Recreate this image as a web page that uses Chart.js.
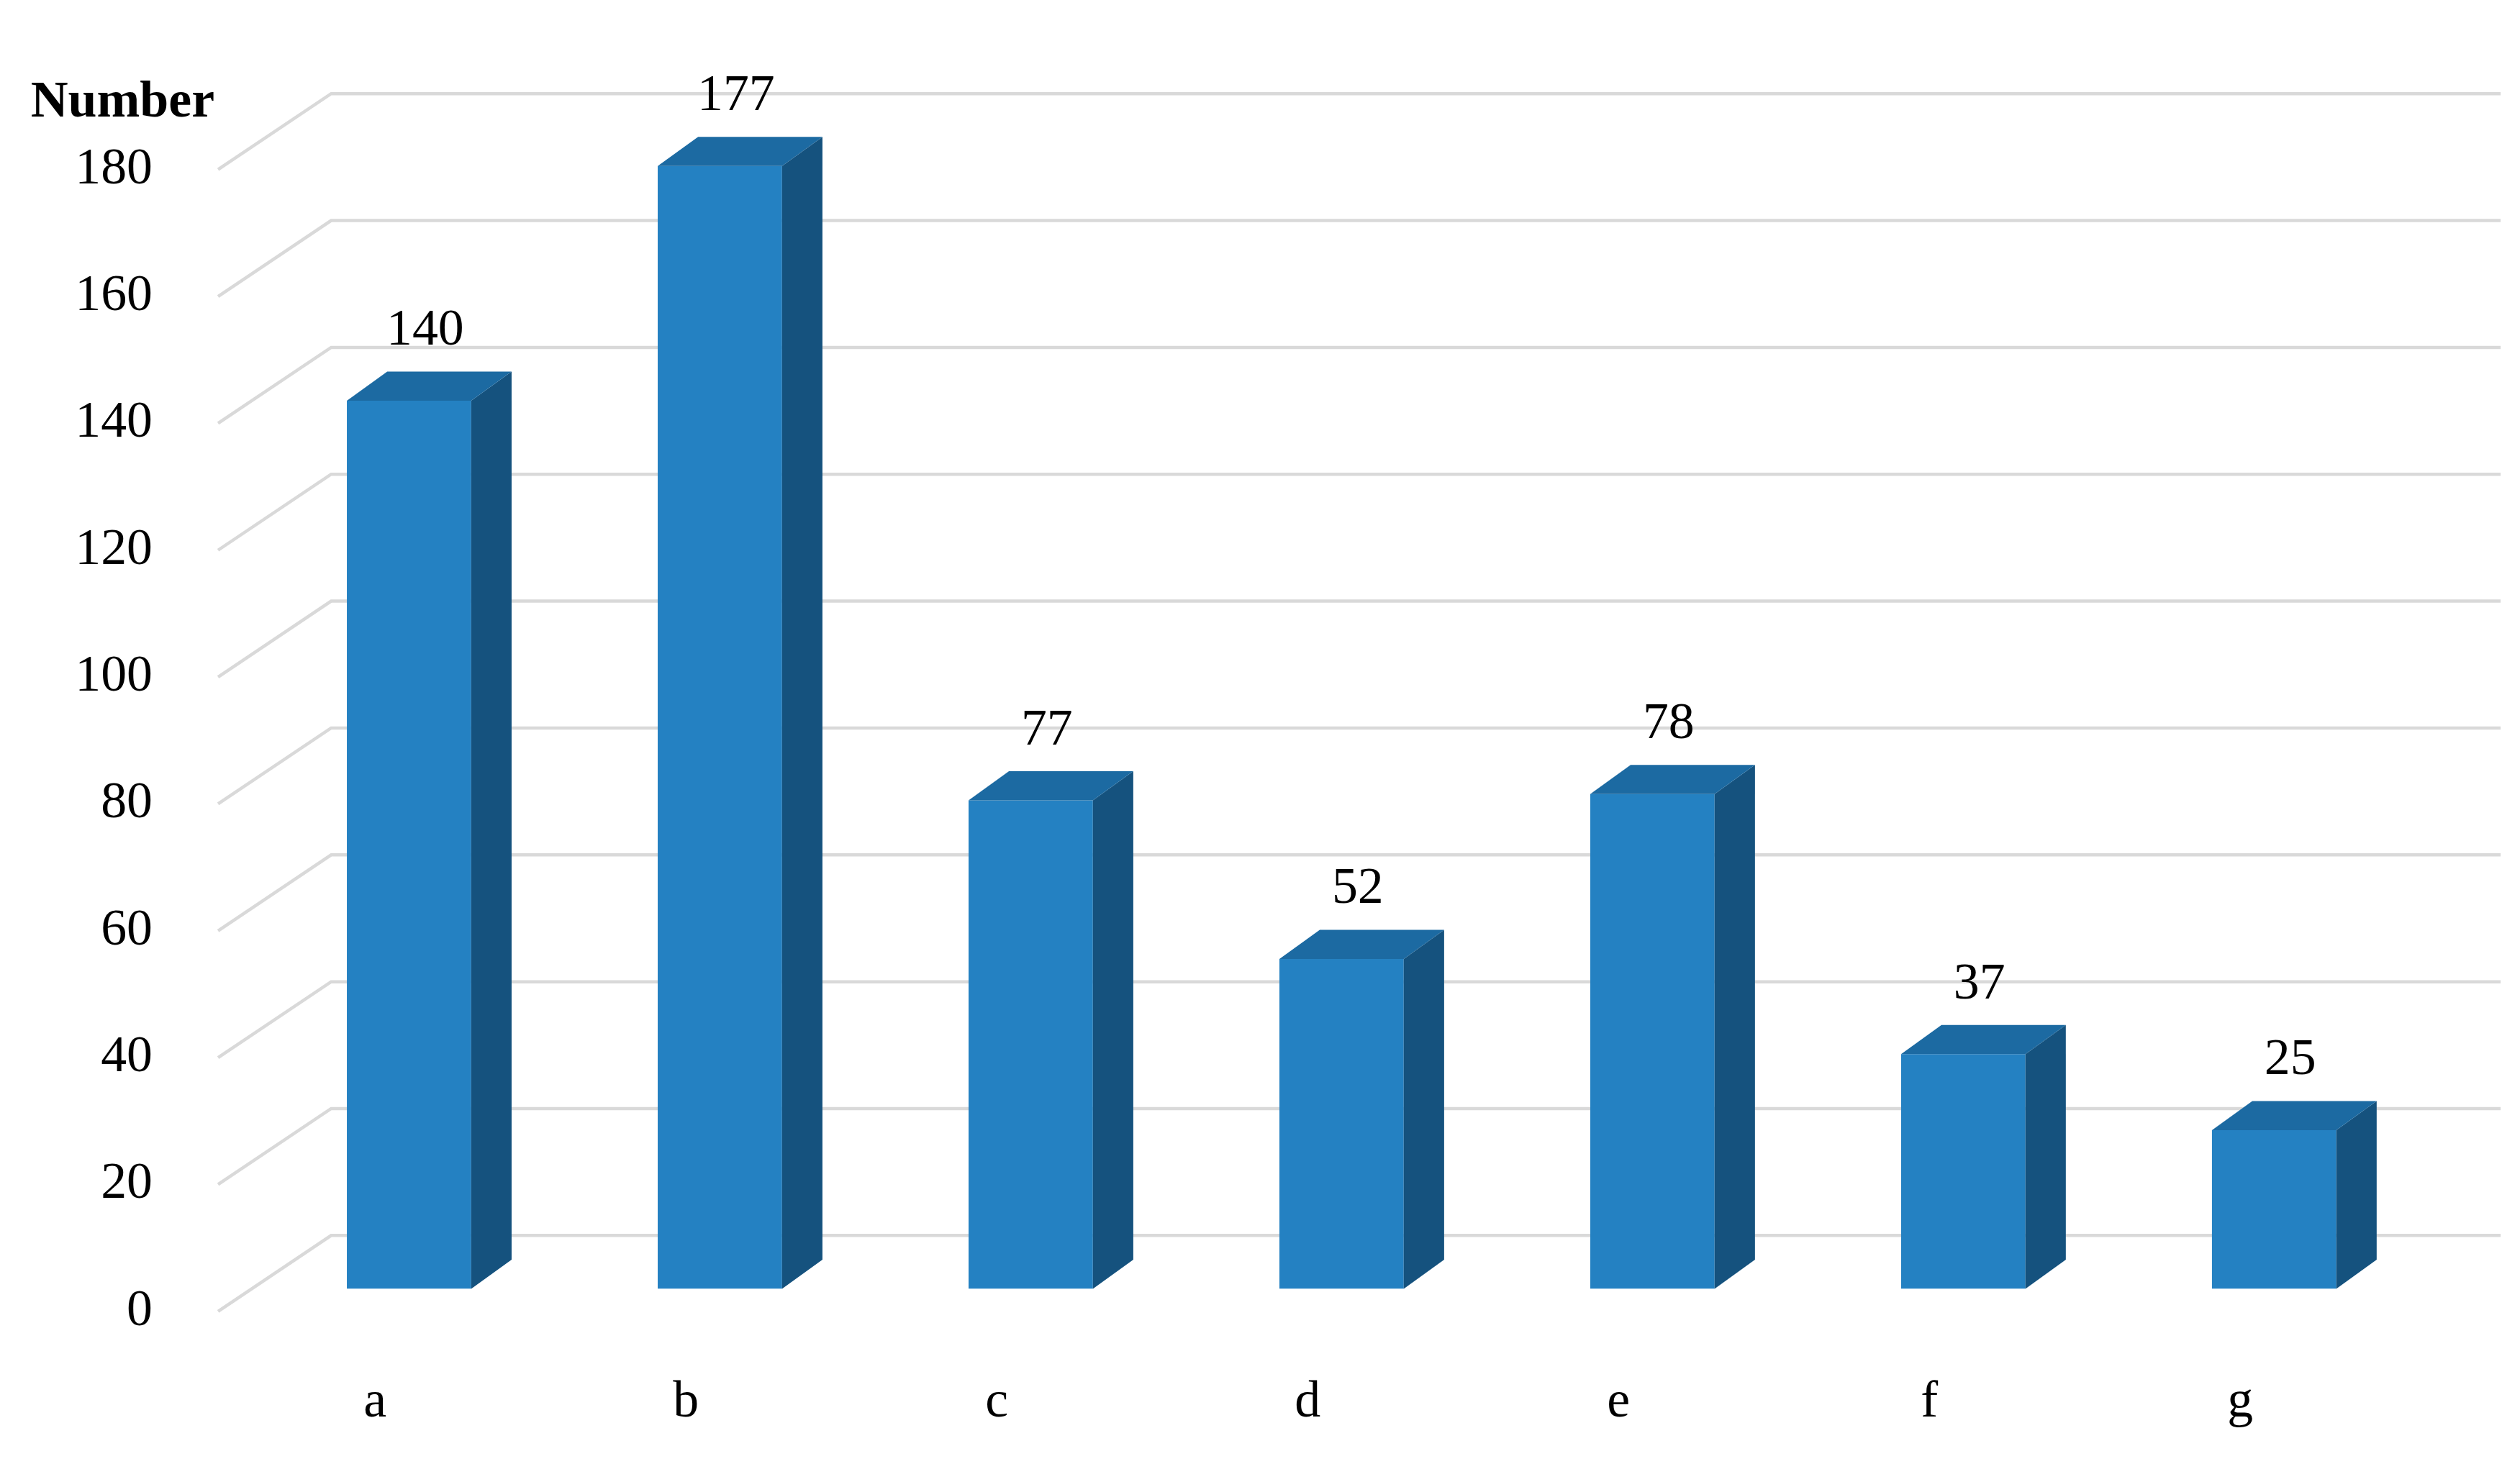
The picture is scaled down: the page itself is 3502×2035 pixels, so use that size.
<!DOCTYPE html>
<html>
<head>
<meta charset="utf-8">
<script src="https://cdn.jsdelivr.net/npm/chart.js@4/dist/chart.umd.min.js"></script>
<style>
  html, body { margin: 0; padding: 0; background: #fff; }
  #wrap { width: 3502px; height: 2035px; }
</style>
</head>
<body>
<div id="wrap"><canvas id="myChart" width="3502" height="2035"></canvas></div>
<script>
const categories = ['a', 'b', 'c', 'd', 'e', 'f', 'g'];
const counts = [140, 177, 77, 52, 78, 37, 25];
const yTicks = [0, 20, 40, 60, 80, 100, 120, 140, 160, 180];

const S = 3502 / 1560;   // reference was read at ~1560px wide
const FONT = '"Liberation Serif", "DejaVu Serif", serif';

// draws the fake 3d: slanted floor/wall gridlines, bar sides and tops, value labels
const depthPlugin = {
  id: 'depth',
  beforeDatasetsDraw(chart) {
    const ctx = chart.ctx;
    const y = chart.scales.y;
    const x0 = 135 * S, dx = 70 * S, dy = 47 * S, front = 14 * S;
    const right = 1548 * S;
    ctx.save();
    ctx.strokeStyle = '#d9d9d9';
    ctx.lineWidth = 4.5;
    yTicks.forEach(v => {
      const py = y.getPixelForValue(v) + front;
      ctx.beginPath();
      ctx.moveTo(x0, py);
      ctx.lineTo(x0 + dx, py - dy);
      ctx.lineTo(right, py - dy);
      ctx.stroke();
    });
    ctx.restore();
  },
  afterDatasetsDraw(chart) {
    const ctx = chart.ctx;
    const meta = chart.getDatasetMeta(0);
    const ox = 25 * S, oy = 18 * S;
    ctx.save();
    meta.data.forEach((bar, i) => {
      const l = bar.x - bar.width / 2, r = bar.x + bar.width / 2;
      const t = bar.y, b = bar.base;
      // side
      ctx.fillStyle = '#15527e';
      ctx.beginPath();
      ctx.moveTo(r, t); ctx.lineTo(r + ox, t - oy); ctx.lineTo(r + ox, b - oy); ctx.lineTo(r, b);
      ctx.closePath(); ctx.fill();
      // top
      ctx.fillStyle = '#1c6aa2';
      ctx.beginPath();
      ctx.moveTo(l, t); ctx.lineTo(l + ox, t - oy); ctx.lineTo(r + ox, t - oy); ctx.lineTo(r, t);
      ctx.closePath(); ctx.fill();
      // value
      ctx.fillStyle = '#000';
      ctx.font = (32 * S) + 'px ' + FONT;
      ctx.textAlign = 'center';
      ctx.textBaseline = 'middle';
      ctx.fillText(String(counts[i]), bar.x + 10 * S, t - 43 * S);
    });
    // axis title
    ctx.font = 'bold ' + (32 * S) + 'px ' + FONT;
    ctx.textAlign = 'left';
    ctx.textBaseline = 'middle';
    ctx.fillText('Number', 19 * S, 64 * S);
    ctx.restore();
  }
};

window.addEventListener('load', function () {
  const ctx = document.getElementById('myChart').getContext('2d');
  new Chart(ctx, {
    type: 'bar',
    data: {
      labels: categories,
      datasets: [{
        data: counts,
        backgroundColor: '#2481c2',
        borderWidth: 0,
        categoryPercentage: 1,
        barPercentage: 0.4
      }]
    },
    options: {
      responsive: false,
      animation: false,
      devicePixelRatio: 1,
      layout: { padding: { top: 91 * S, right: 3502 - 1504 * S, left: 0, bottom: 0 } },
      plugins: { legend: { display: false }, tooltip: { enabled: false } },
      scales: {
        x: {
          grid: { display: false },
          border: { display: false },
          afterFit(scale) { scale.height = 2035 - 798 * S; },
          ticks: {
            color: '#000',
            font: { family: FONT, size: 32 * S },
            padding: 48 * S,
            labelOffset: -21 * S
          }
        },
        y: {
          min: 0,
          max: 180,
          afterBuildTicks(scale) { scale.ticks = yTicks.map(v => ({ value: v })); },
          afterFit(scale) { scale.width = 157 * S; },
          grid: { display: false },
          border: { display: false },
          ticks: {
            color: '#000',
            font: { family: FONT, size: 32 * S },
            padding: 59 * S,
            labelOffset: 14 * S
          }
        }
      }
    },
    plugins: [depthPlugin]
  });
});
</script>
</body>
</html>
